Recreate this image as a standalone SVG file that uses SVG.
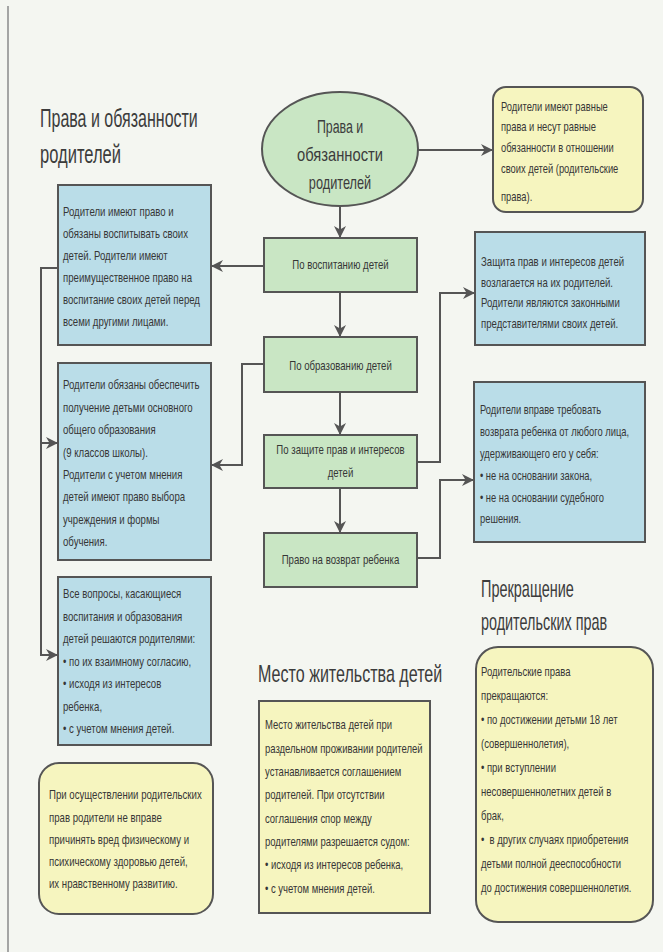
<svg xmlns="http://www.w3.org/2000/svg" width="663" height="952" viewBox="0 0 663 952">
<style>
.bg{fill:#f4f6f1}
.blue{fill:#badde8;stroke:#555;stroke-width:2}
.green{fill:#c9e6c4;stroke:#555;stroke-width:2}
.yellow{fill:#f6f5bf;stroke:#555;stroke-width:2}
.t{font-family:"Liberation Sans",Arial,sans-serif;font-size:13px;fill:#363636}
.h{font-family:"Liberation Sans",Arial,sans-serif;fill:#3c3c3c}
.c{text-anchor:middle}
.ln{fill:none;stroke:#555;stroke-width:2}
</style>
<defs>
<marker id="ah" markerUnits="userSpaceOnUse" markerWidth="12" markerHeight="12" refX="10" refY="5" orient="auto" viewBox="0 0 10 10">
<path d="M0,0 L10,5 L0,10 L3,5 z" fill="#555"/>
</marker>
</defs>
<rect class="bg" x="0" y="0" width="663" height="952"/>
<line x1="8" y1="6" x2="8" y2="952" stroke="#8a8a8a" stroke-width="1.5"/>

<g id="headings">
<text class="h" transform="translate(40 0) scale(0.6 1)" x="0" y="127" font-size="26" textLength="263" lengthAdjust="spacingAndGlyphs">Права и обязанности</text>
<text class="h" transform="translate(40 0) scale(0.6 1)" x="0" y="163" font-size="26" textLength="135" lengthAdjust="spacingAndGlyphs">родителей</text>
<text class="h" transform="translate(258 0) scale(0.67 1)" x="0" y="682" font-size="24" textLength="275" lengthAdjust="spacingAndGlyphs">Место жительства детей</text>
<text class="h" transform="translate(481 0) scale(0.64 1)" x="0" y="597" font-size="24" textLength="145" lengthAdjust="spacingAndGlyphs">Прекращение</text>
<text class="h" transform="translate(481 0) scale(0.615 1)" x="0" y="630" font-size="24" textLength="205" lengthAdjust="spacingAndGlyphs">родительских прав</text>
</g>

<g id="connectors">
<path class="ln" d="M340,206 V238" marker-end="url(#ah)"/>
<path class="ln" d="M418,150 H493" marker-end="url(#ah)"/>
<path class="ln" d="M264,266 H211" marker-end="url(#ah)"/>
<path class="ln" d="M58,268 H41 V655 H58" marker-end="url(#ah)"/>
<path class="ln" d="M41,443 H58" marker-end="url(#ah)"/>
<path class="ln" d="M264,364 H242 V465 H211" marker-end="url(#ah)"/>
<path class="ln" d="M340,292 V337" marker-end="url(#ah)"/>
<path class="ln" d="M340,392 V435" marker-end="url(#ah)"/>
<path class="ln" d="M340,488 V533" marker-end="url(#ah)"/>
<path class="ln" d="M417,462 H440 V293 H475" marker-end="url(#ah)"/>
<path class="ln" d="M417,558 H440 V480 H474" marker-end="url(#ah)"/>
</g>

<g id="root">
<ellipse class="green" cx="340" cy="149" rx="78" ry="57"/>
<text class="h c" transform="translate(340 0) scale(0.68 1)" x="0" y="133" font-size="18" textLength="68" lengthAdjust="spacingAndGlyphs">Права и</text>
<text class="h c" transform="translate(340 0) scale(0.79 1)" x="0" y="161" font-size="18" textLength="109" lengthAdjust="spacingAndGlyphs">обязанности</text>
<text class="h c" transform="translate(340 0) scale(0.7 1)" x="0" y="189" font-size="18" textLength="89" lengthAdjust="spacingAndGlyphs">родителей</text>
</g>

<g id="equal-rights">
<rect class="yellow" x="493" y="87" width="150" height="125" rx="13"/>
<text class="t" transform="translate(501 0) scale(0.72 1)">
<tspan x="0" y="111">Родители имеют равные</tspan>
<tspan x="0" y="131">права и несут равные</tspan>
<tspan x="0" y="152">обязанности в отношении</tspan>
<tspan x="0" y="173">своих детей (родительские</tspan>
<tspan x="0" y="201">права).</tspan>
</text>
</g>

<g id="upbringing">
<rect class="green" x="264" y="238" width="153" height="54"/>
<text class="t c" transform="translate(340.5 0) scale(0.74 1)"><tspan x="0" y="269.5">По воспитанию детей</tspan></text>
</g>

<g id="education">
<rect class="green" x="264" y="337" width="153" height="55"/>
<text class="t c" transform="translate(340.5 0) scale(0.74 1)"><tspan x="0" y="370">По образованию детей</tspan></text>
</g>

<g id="protection">
<rect class="green" x="264" y="435" width="153" height="53"/>
<text class="t c" transform="translate(340.5 0) scale(0.74 1)"><tspan x="0" y="454.5">По защите прав и интересов</tspan><tspan x="0" y="477.5">детей</tspan></text>
</g>

<g id="return">
<rect class="green" x="264" y="533" width="153" height="54"/>
<text class="t c" transform="translate(340.5 0) scale(0.74 1)"><tspan x="0" y="564.5">Право на возврат ребенка</tspan></text>
</g>

<g id="upbringing-info">
<rect class="blue" x="58" y="185" width="153" height="160"/>
<text class="t" transform="translate(63 0) scale(0.74 1)">
<tspan x="0" y="216.5">Родители имеют право и</tspan>
<tspan x="0" y="238.5">обязаны воспитывать своих</tspan>
<tspan x="0" y="260.5">детей. Родители имеют</tspan>
<tspan x="0" y="282.5">преимущественное право на</tspan>
<tspan x="0" y="304.5">воспитание своих детей перед</tspan>
<tspan x="0" y="326.5">всеми другими лицами.</tspan>
</text>
</g>

<g id="education-info">
<rect class="blue" x="58" y="363" width="153" height="197"/>
<text class="t" transform="translate(63 0) scale(0.74 1)">
<tspan x="0" y="389.5">Родители обязаны обеспечить</tspan>
<tspan x="0" y="411.9">получение детьми основного</tspan>
<tspan x="0" y="434.3">общего образования</tspan>
<tspan x="0" y="456.7">(9 классов школы).</tspan>
<tspan x="0" y="479.1">Родители с учетом мнения</tspan>
<tspan x="0" y="501.5">детей имеют право выбора</tspan>
<tspan x="0" y="523.9">учреждения и формы</tspan>
<tspan x="0" y="546.3">обучения.</tspan>
</text>
</g>

<g id="agreement-info">
<rect class="blue" x="58" y="577" width="153" height="168"/>
<text class="t" transform="translate(63 0) scale(0.74 1)">
<tspan x="0" y="598.5">Все вопросы, касающиеся</tspan>
<tspan x="0" y="621">воспитания и образования</tspan>
<tspan x="0" y="643.5">детей решаются родителями:</tspan>
<tspan x="0" y="666">• по их взаимному согласию,</tspan>
<tspan x="0" y="688.5">• исходя из интересов</tspan>
<tspan x="0" y="711">ребенка,</tspan>
<tspan x="0" y="733.5">• с учетом мнения детей.</tspan>
</text>
</g>

<g id="protection-info">
<rect class="blue" x="475" y="232" width="170" height="113"/>
<text class="t" transform="translate(481 0) scale(0.74 1)">
<tspan x="0" y="266.5">Защита прав и интересов детей</tspan>
<tspan x="0" y="287">возлагается на их родителей.</tspan>
<tspan x="0" y="307.5">Родители являются законными</tspan>
<tspan x="0" y="328">представителями своих детей.</tspan>
</text>
</g>

<g id="return-info">
<rect class="blue" x="474" y="382" width="171" height="160"/>
<text class="t" transform="translate(480 0) scale(0.72 1)">
<tspan x="0" y="414.5">Родители вправе требовать</tspan>
<tspan x="0" y="436.3">возврата ребенка от любого лица,</tspan>
<tspan x="0" y="458.1">удерживающего его у себя:</tspan>
<tspan x="0" y="479.9">• не на основании закона,</tspan>
<tspan x="0" y="501.7">• не на основании судебного</tspan>
<tspan x="0" y="523.5">решения.</tspan>
</text>
</g>

<g id="harm-info">
<rect class="yellow" x="39" y="763" width="174" height="151" rx="20"/>
<text class="t" transform="translate(49 0) scale(0.74 1)">
<tspan x="0" y="799.5">При осуществлении родительских</tspan>
<tspan x="0" y="821.7">прав родители не вправе</tspan>
<tspan x="0" y="843.9">причинять вред физическому и</tspan>
<tspan x="0" y="866.1">психическому здоровью детей,</tspan>
<tspan x="0" y="888.3">их нравственному развитию.</tspan>
</text>
</g>

<g id="residence-info">
<rect class="yellow" x="259" y="701" width="171" height="212"/>
<text class="t" transform="translate(265 0) scale(0.73 1)">
<tspan x="0" y="729.5">Место жительства детей при</tspan>
<tspan x="0" y="752.8">раздельном проживании родителей</tspan>
<tspan x="0" y="776.1">устанавливается соглашением</tspan>
<tspan x="0" y="799.4">родителей. При отсутствии</tspan>
<tspan x="0" y="822.7">соглашения спор между</tspan>
<tspan x="0" y="846">родителями разрешается судом:</tspan>
<tspan x="0" y="869.3">• исходя из интересов ребенка,</tspan>
<tspan x="0" y="892.6">• с учетом мнения детей.</tspan>
</text>
</g>

<g id="termination-info">
<rect class="yellow" x="476" y="647" width="177" height="275" rx="22"/>
<text class="t" transform="translate(481 0) scale(0.73 1)">
<tspan x="0" y="676.5">Родительские права</tspan>
<tspan x="0" y="700.5">прекращаются:</tspan>
<tspan x="0" y="724.5">• по достижении детьми 18 лет</tspan>
<tspan x="0" y="748.5">(совершеннолетия),</tspan>
<tspan x="0" y="772.5">• при вступлении</tspan>
<tspan x="0" y="796.5">несовершеннолетних детей в</tspan>
<tspan x="0" y="820.5">брак,</tspan>
<tspan x="0" y="844.5">•&#160; в других случаях приобретения</tspan>
<tspan x="0" y="868.5">детьми полной дееспособности</tspan>
<tspan x="0" y="892.5">до достижения совершеннолетия.</tspan>
</text>
</g>
</svg>
